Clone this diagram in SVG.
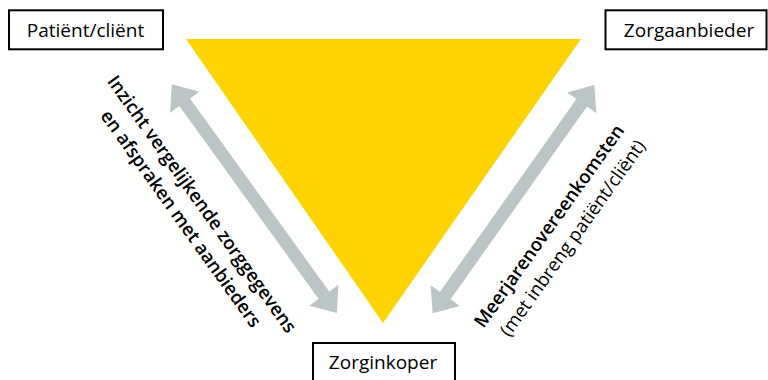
<svg xmlns="http://www.w3.org/2000/svg" width="768" height="380" viewBox="0 0 768 380">
<style>
.box{fill:#fff;stroke:#000;stroke-width:2}
.lbl{font-family:"Open Sans","Liberation Sans",sans-serif;font-size:19px;fill:#000;text-anchor:middle}
.rot{font-family:"Open Sans","Liberation Sans",sans-serif;font-size:18.5px;fill:#000;text-anchor:middle}
.b{font-weight:600}
.arrow{fill:#BCC5C5}
</style>
<defs>
<path id="dbl" d="M-141 0 L-119 -18 L-119 -6.5 L119 -6.5 L119 -18 L141 0 L119 18 L119 6.5 L-119 6.5 L-119 18 Z"/>
</defs>
<polygon points="186,39 581,39 383,323" fill="#FFD300"/>
<g id="connectors">
<use href="#dbl" class="arrow" transform="translate(254.3,198.7) rotate(54.2)"/>
<use href="#dbl" class="arrow" transform="translate(513.5,199.2) rotate(-54.7) scale(0.992,1)"/>
</g>
<g id="patient">
<rect class="box" x="9" y="10.3" width="154" height="39"/>
<text class="lbl" x="85.5" y="37">Patiënt/cliënt</text>
</g>
<g id="zorgaanbieder">
<rect class="box" x="605.5" y="10.3" width="161" height="39"/>
<text class="lbl" x="689" y="37">Zorgaanbieder</text>
</g>
<g id="zorginkoper">
<rect class="box" x="313" y="343" width="142" height="42"/>
<text class="lbl" x="383" y="369">Zorginkoper</text>
</g>
<g id="label-left">
<text class="rot b" transform="translate(202,204) rotate(54.5)" dy="0.35em">Inzicht vergelijkende zorggegevens</text>
<text class="rot b" transform="translate(181,218.5) rotate(54.5)" dy="0.35em">en afspraken met aanbieders</text>
</g>
<g id="label-right">
<text class="rot b" transform="translate(549,226) rotate(-54.5)" dy="0.35em">Meerjarenovereenkomsten</text>
<text class="rot" transform="translate(572.5,238) rotate(-54.5)" dy="0.35em">(met inbreng patiënt/cliënt)</text>
</g>
</svg>
